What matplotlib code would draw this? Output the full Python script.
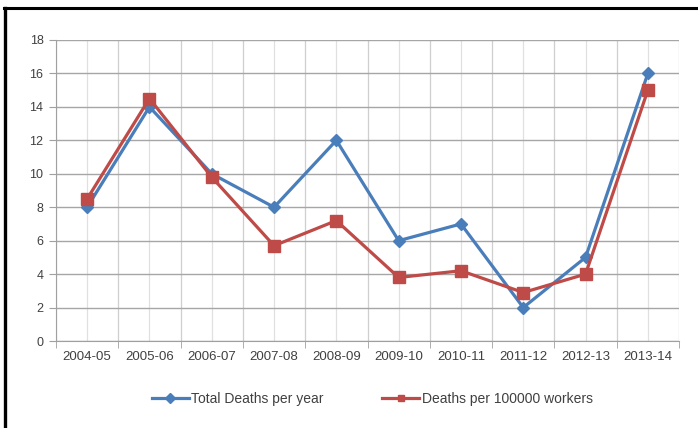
import matplotlib
matplotlib.use("Agg")
import matplotlib.pyplot as plt
from matplotlib.lines import Line2D
import numpy as np

categories = ["2004-05", "2005-06", "2006-07", "2007-08", "2008-09",
              "2009-10", "2010-11", "2011-12", "2012-13", "2013-14"]
total_deaths = [8, 14, 10, 8, 12, 6, 7, 2, 5, 16]
deaths_per_100k = [8.5, 14.5, 9.8, 5.7, 7.2, 3.8, 4.2, 2.9, 4.0, 15.0]
y_ticks = [0, 2, 4, 6, 8, 10, 12, 14, 16, 18]

plt.rcParams['font.family'] = ['Liberation Sans', 'DejaVu Sans']

W, H = 698, 428
fig = plt.figure(figsize=(W / 100, H / 100), dpi=100)
fig.patch.set_facecolor('white')

# outer black frame (left and top edges visible)
fig.add_artist(Line2D([4.5 / W, 4.5 / W], [0, 1 - 8 / H], transform=fig.transFigure,
                      color='black', lw=2.4))
fig.add_artist(Line2D([3.5 / W, 1], [1 - 8 / H, 1 - 8 / H], transform=fig.transFigure,
                      color='black', lw=2.2))

ax = fig.add_axes([56 / W, 1 - 341 / H, (679 - 56) / W, (341 - 40) / H])
x = np.arange(len(categories))

blue = '#4a7ebb'
red = '#be4b48'

ax.plot(x, total_deaths, color=blue, lw=2.3, marker='D', ms=6.5,
        label='Total Deaths per year', zorder=3)
ax.plot(x, deaths_per_100k, color=red, lw=2.3, marker='s', ms=8,
        label='Deaths per 100000 workers', zorder=4)

ax.set_xlim(-0.5, len(categories) - 0.5)
ax.set_ylim(0, 18)
ax.set_yticks(y_ticks)
ax.set_yticklabels([str(v) for v in y_ticks], fontsize=9, color='#404040')
ax.set_xticks(x)
ax.set_xticklabels(categories, fontsize=9.5, color='#404040')
ax.set_xticks(np.arange(-0.5, len(categories), 1.0), minor=True)

ax.tick_params(axis='x', which='major', length=0, pad=7)
ax.tick_params(axis='x', which='minor', length=5, color='#a0a0a0')
ax.tick_params(axis='y', length=5, color='#a0a0a0', pad=4)

ax.grid(axis='y', color='#a6a6a6', lw=1.0, zorder=0)
ax.grid(axis='x', which='minor', color='#cfcfcf', lw=0.9, zorder=0)
ax.grid(axis='x', which='major', color='#e0e0e0', lw=0.9, zorder=0)
ax.set_axisbelow(True)
for s in ['top', 'right']:
    ax.spines[s].set_visible(False)
for s in ['left', 'bottom']:
    ax.spines[s].set_color('#a0a0a0')

leg = fig.legend(loc='center', bbox_to_anchor=(372 / W, 1 - 399 / H),
                 ncol=2, frameon=False, fontsize=10, handlelength=2.7,
                 handletextpad=0.15, columnspacing=4.2)
for t in leg.get_texts():
    t.set_color('#404040')
for h in leg.legend_handles:
    h.set_markersize(5)

fig.savefig('out.png', dpi=100)
